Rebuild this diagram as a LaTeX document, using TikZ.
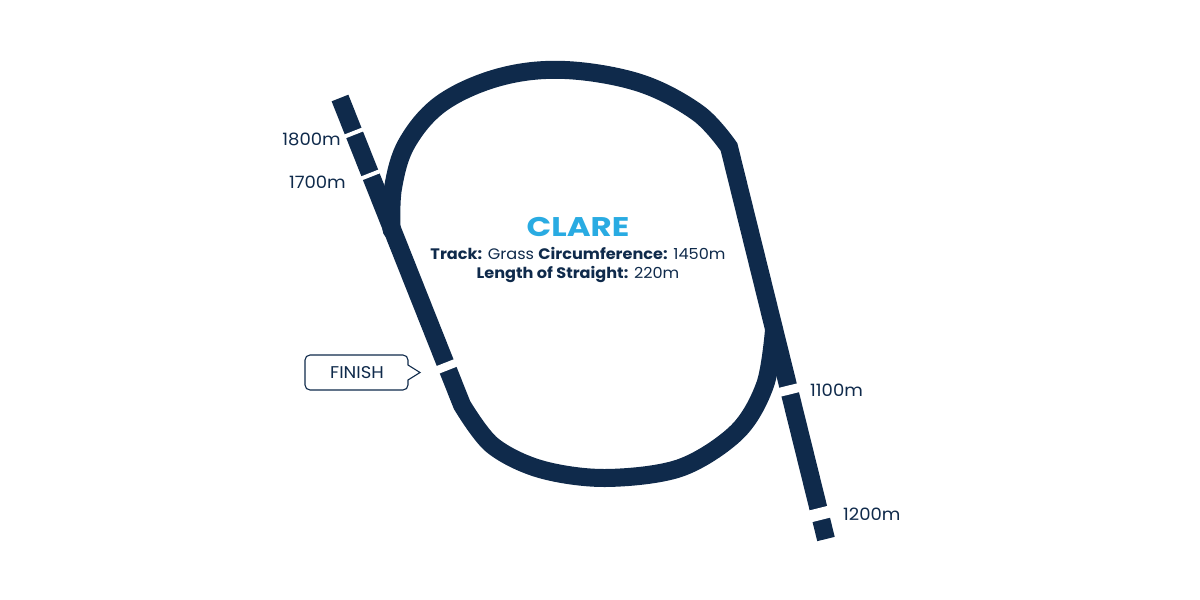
\documentclass[tikz,border=0pt]{standalone}
\usepackage{fontspec}
\setmainfont{Poppins}[FakeStretch=1.06]
\newfontfamily\titlefont{Poppins}[FakeStretch=1.2]
\definecolor{navy}{HTML}{0F2A4B}
\definecolor{clareblue}{HTML}{29ABE2}
\tikzset{
  track/.style={draw=navy, line width=18pt, line cap=butt, line join=miter},
  gapcut/.style={draw=white, line cap=butt},
  dist/.style={text=navy, font=\fontsize{17}{19}\selectfont, inner sep=0pt},
  info/.style={text=navy, font=\fontsize{15.2}{17}\selectfont, inner sep=0pt}
}
\begin{document}
\begin{tikzpicture}[x=1pt,y=-1pt]
\useasboundingbox (0,0) rectangle (1200,600);
% left straight and bottom bend
\draw[track] (340,98) -- (462,405) -- plot[smooth, tension=0.55] coordinates {(462,405) (492,445) (540,469) (605,478) (680,468) (737,432) (765,385) (774,330)};
\fill[navy] (774,330) circle (9pt);
% top bend and right straight
\draw[track] plot[smooth, tension=0.6] coordinates {(391.6,230) (393,188) (407,143) (442,103) (500,77) (565,70) (640,83) (698,113) (729,147)} -- (826,539);
\fill[navy] (391.6,230) circle (9pt);
% gaps
\draw[gapcut, line width=4pt] (342.5,137.4) -- (364.9,128.6);
\draw[gapcut, line width=4pt] (358.9,179.4) -- (381.3,170.6);
\draw[gapcut, line width=8pt] (433.9,371.4) -- (456.3,362.6);
\draw[gapcut, line width=9pt] (778.4,392.6) -- (800.8,387.1);
\draw[gapcut, line width=12pt] (808.2,516.9) -- (831.5,511.1);
% distance labels
\node[dist, anchor=east] (l1800) at (341,139) {1800m};
\node[dist, anchor=east] (l1700) at (346,182) {1700m};
\node[dist, anchor=west] (l1100) at (810,390) {1100m};
\node[dist, anchor=west] (l1200) at (843,514) {1200m};
% finish callout
\draw[navy, line width=1.1pt, fill=white, rounded corners=5pt]
  (305,355) -- (408,355) [sharp corners] -- (408,365) -- (420,372.5) -- (408,380) [rounded corners=5pt] -- (408,390) -- (305,390) -- cycle;
\node[dist] (finish) at (357,373) {FINISH};
% title
\node[text=clareblue, font=\titlefont\bfseries\fontsize{27}{30}\selectfont, inner sep=0pt] (title) at (578,227) {CLARE};
\node[info] (line1) at (578,253) {\textbf{Track:} Grass \textbf{Circumference:} 1450m};
\node[info] (line2) at (578,274) {\textbf{Length of Straight:} 220m};
\end{tikzpicture}
\end{document}
